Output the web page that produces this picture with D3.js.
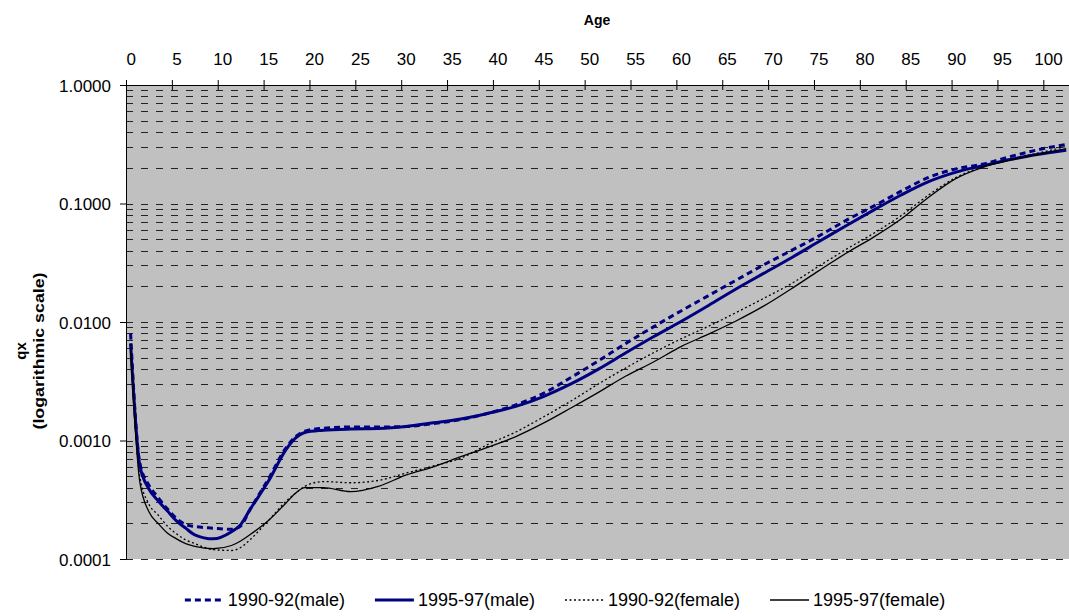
<!DOCTYPE html>
<html>
<head>
<meta charset="utf-8">
<script src="https://cdn.jsdelivr.net/npm/d3@7"></script>
<style>
  body { margin: 0; background: #fff; }
  svg { display: block; font-family: "Liberation Sans", Arial, sans-serif; }
</style>
</head>
<body>
<script>
'use strict';

// single years of age and qx values
const ages = [0, 1, 2, 3, 4, 5, 6, 7, 9, 11, 12, 13, 15, 17, 18, 19, 21, 24, 27, 30,
  33, 36, 39, 42, 45, 48, 51, 54, 57, 60, 63, 66, 69, 72, 75, 78, 81, 84, 87, 90,
  93, 96, 99, 102];

const male9092 = [0.0080, 0.00065, 0.00042, 0.00033, 0.000265, 0.00022, 0.000195, 0.000188,
  0.000182, 0.000178, 0.00019, 0.00026, 0.00047, 0.00088, 0.00108, 0.0012, 0.00127, 0.0013,
  0.0013, 0.00131, 0.00139, 0.0015, 0.0017, 0.002, 0.0025, 0.0034, 0.0047, 0.0066, 0.0091,
  0.0124, 0.0167, 0.0225, 0.0303, 0.040, 0.053, 0.072, 0.095, 0.127, 0.166, 0.196, 0.216,
  0.25, 0.285, 0.315];

const male9597 = [0.0066, 0.00062, 0.00039, 0.00031, 0.000255, 0.00021, 0.000182, 0.00016,
  0.000148, 0.00017, 0.000195, 0.00026, 0.00045, 0.00085, 0.00105, 0.00117, 0.00122, 0.00125,
  0.00126, 0.00131, 0.00141, 0.00152, 0.0017, 0.00194, 0.00235, 0.0030, 0.0040, 0.0055, 0.0075,
  0.0101, 0.0138, 0.019, 0.0257, 0.0347, 0.0475, 0.065, 0.088, 0.118, 0.153, 0.184, 0.209,
  0.236, 0.26, 0.282];

const female9092 = [0.0065, 0.0005, 0.00029, 0.000235, 0.00019, 0.000163, 0.000145, 0.000135,
  0.00012, 0.000118, 0.000125, 0.000145, 0.00021, 0.00031, 0.00036, 0.00041, 0.00045, 0.00044,
  0.00046, 0.00053, 0.00061, 0.00071, 0.00093, 0.00118, 0.00158, 0.00215, 0.003, 0.0041, 0.0055,
  0.0072, 0.0092, 0.012, 0.0158, 0.021, 0.0295, 0.041, 0.056, 0.079, 0.118, 0.166, 0.205,
  0.236, 0.267, 0.303];

const female9597 = [0.0058, 0.00045, 0.00025, 0.0002, 0.000166, 0.000148, 0.000135, 0.000128,
  0.000122, 0.00013, 0.000142, 0.00016, 0.00021, 0.0003, 0.00036, 0.0004, 0.0004, 0.00037,
  0.00041, 0.00051, 0.0006, 0.00073, 0.00088, 0.00108, 0.0014, 0.00188, 0.00255, 0.0035, 0.0046,
  0.0062, 0.0079, 0.0102, 0.0136, 0.019, 0.027, 0.038, 0.052, 0.074, 0.113, 0.163, 0.203,
  0.233, 0.26, 0.29];

const seriesNames = ["1990-92(male)", "1995-97(male)", "1990-92(female)", "1995-97(female)"];
const xTicks = d3.range(0, 101, 5);
const yTicks = [1, 0.1, 0.01, 0.001, 0.0001];

const m = { width: 1069, height: 616, left: 126, right: 1069, top: 85, bottom: 559 };

// line look for each series, same order as seriesNames
const styles = [
  { color: "#000080", width: 3, dash: "6,4" },
  { color: "#000080", width: 3, dash: null },
  { color: "#000000", width: 1.3, dash: "2,2.5" },
  { color: "#000000", width: 1.3, dash: null }
];

const svg = d3.select("body").append("svg")
  .attr("width", m.width)
  .attr("height", m.height);

// ages are categories: each one gets a slot, ticks sit on slot edges
const x = d3.scaleLinear().domain([-0.5, 102.5]).range([m.left, m.left + 103 * 9.173]);
const y = d3.scaleLog().domain([0.0001, 1]).range([m.bottom, m.top]);

// grey plot area
svg.append("rect")
  .attr("x", m.left).attr("y", m.top)
  .attr("width", m.right - m.left).attr("height", m.bottom - m.top)
  .attr("fill", "#c0c0c0");

// dashed grid at 1..9 of every decade
let gridVals = [];
for (let e = -4; e < 0; e++) {
  for (let k = 1; k <= 9; k++) gridVals.push(k * Math.pow(10, e));
}
svg.append("g").selectAll("line")
  .data(gridVals)
  .enter().append("line")
  .attr("x1", m.left).attr("x2", m.right)
  .attr("y1", (d) => Math.round(y(d)) + 0.5).attr("y2", (d) => Math.round(y(d)) + 0.5)
  .attr("stroke", "#222")
  .attr("stroke-width", 1)
  .attr("stroke-dasharray", "7,8");

// series
const lineGen = d3.line()
  .x((d) => x(d[0]))
  .y((d) => y(d[1]))
  .curve(d3.curveMonotoneX);

const allSeries = [male9092, male9597, female9092, female9597];
allSeries.forEach((vals, i) => {
  svg.append("path")
    .datum(ages.map((a, j) => [a, vals[j]]))
    .attr("d", lineGen)
    .attr("fill", "none")
    .attr("stroke", styles[i].color)
    .attr("stroke-width", styles[i].width)
    .attr("stroke-dasharray", styles[i].dash);
});

// top axis (age)
const xAxis = d3.axisTop(x)
  .tickValues(xTicks.map((t) => t - 0.5))
  .tickFormat((d) => d + 0.5)
  .tickSizeInner(5)
  .tickSizeOuter(0);
const gx = svg.append("g")
  .attr("transform", "translate(0," + m.top + ")")
  .call(xAxis);
gx.select(".domain").attr("d", "M" + m.left + ",0.5H" + m.right).attr("stroke", "#000");
gx.selectAll(".tick line").attr("y1", 5).attr("y2", -5).attr("stroke", "#000");
gx.selectAll(".tick text")
  .attr("x", 4.6)
  .attr("y", -20)
  .attr("dy", 0)
  .attr("fill", "#000")
  .style("font-size", "17px")
  .style("font-family", "Liberation Sans, Arial, sans-serif");

// left axis (qx)
const yAxis = d3.axisLeft(y)
  .tickValues(yTicks)
  .tickFormat(d3.format(".4f"))
  .tickSizeInner(6)
  .tickSizeOuter(0)
  .tickPadding(9);
const gy = svg.append("g")
  .attr("transform", "translate(" + m.left + ",0)")
  .call(yAxis);
gy.select(".domain").attr("stroke", "#000");
gy.selectAll(".tick line").attr("stroke", "#000");
gy.selectAll(".tick text")
  .attr("dy", "0.36em")
  .attr("fill", "#000")
  .style("font-size", "17px")
  .style("font-family", "Liberation Sans, Arial, sans-serif");

// titles
svg.append("text")
  .attr("x", 597).attr("y", 25)
  .attr("text-anchor", "middle")
  .style("font-size", "14px").style("font-weight", "bold")
  .text("Age");

const yTitle = svg.append("text")
  .attr("transform", "translate(0,351)rotate(-90)")
  .attr("text-anchor", "middle")
  .style("font-size", "15px").style("font-weight", "bold");
yTitle.append("tspan").attr("x", 0).attr("y", 26).text("qx");
yTitle.append("tspan").attr("x", 0).attr("y", 44)
  .attr("textLength", 157).attr("lengthAdjust", "spacingAndGlyphs")
  .text("(logarithmic scale)");

// legend along the bottom
const legend = svg.append("g");
const sampleLen = 39;
const itemGap = 30;
let lx = 0;
seriesNames.forEach((name, i) => {
  const item = legend.append("g").attr("transform", "translate(" + lx + ",0)");
  item.append("line")
    .attr("x1", 0).attr("x2", sampleLen)
    .attr("y1", 0).attr("y2", 0)
    .attr("stroke", styles[i].color)
    .attr("stroke-width", styles[i].width)
    .attr("stroke-dasharray", styles[i].dash);
  const t = item.append("text")
    .attr("x", sampleLen + 4).attr("y", 6)
    .style("font-size", "18px")
    .text(name);
  lx += sampleLen + 4 + t.node().getComputedTextLength() + itemGap;
});
lx -= itemGap;
legend.attr("transform", "translate(" + (565 - lx / 2) + ",600)");
</script>
</body>
</html>
